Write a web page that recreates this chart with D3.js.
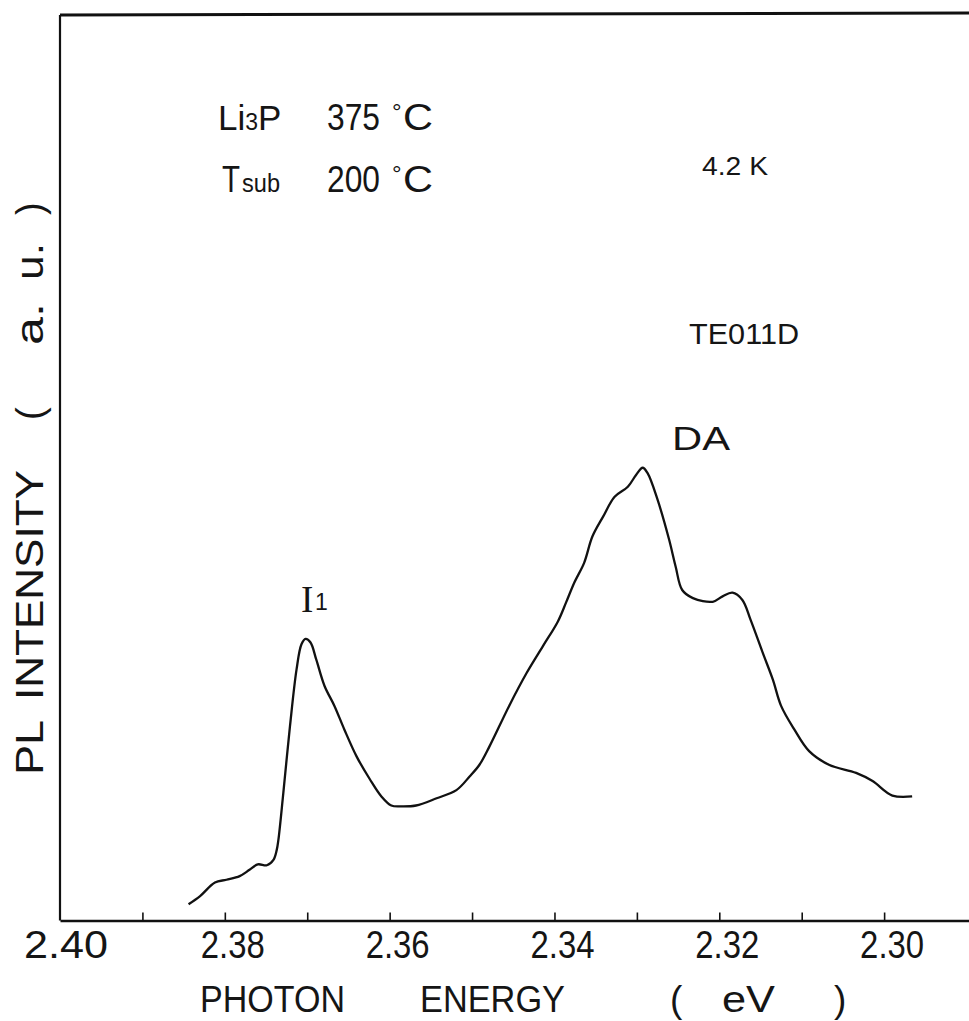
<!DOCTYPE html>
<html>
<head>
<meta charset="utf-8">
<script src="https://cdn.jsdelivr.net/npm/d3@7/dist/d3.min.js"></script>
<style>
  html, body { margin: 0; padding: 0; background: #fff; }
  svg { display: block; }
  text { font-family: 'Liberation Sans Narrow', 'Liberation Sans', 'DejaVu Sans', sans-serif; fill: #151515; }
</style>
</head>
<body>
<div id="chart"></div>
<script>
// photon energy (eV) left to right
const energy = [
  2.3844, 2.3830, 2.3812, 2.3798, 2.3782, 2.3770, 2.3760, 2.3749, 2.3741, 2.3737,
  2.3735, 2.3729, 2.3721, 2.3713, 2.3707, 2.3702, 2.3696, 2.3689, 2.3679, 2.3667,
  2.3655, 2.3640, 2.3624, 2.3610, 2.3598, 2.3586, 2.3568, 2.3543, 2.3519, 2.3503,
  2.3491, 2.3479, 2.3455, 2.3434, 2.3414, 2.3396, 2.3386, 2.3376, 2.3364, 2.3354,
  2.3341, 2.3327, 2.3311, 2.3301, 2.3293, 2.3287, 2.3275, 2.3261, 2.3253, 2.3245,
  2.3232, 2.3208, 2.3196, 2.3184, 2.3172, 2.3162, 2.3147, 2.3135, 2.3125, 2.3109,
  2.3091, 2.3067, 2.3034, 2.3014, 2.2990, 2.2966,
]
// PL intensity (a.u.)
const intensity = [
  0.18, 0.27, 0.42, 0.45, 0.49, 0.56, 0.62, 0.61, 0.67, 0.78,
  0.89, 1.41, 2.14, 2.77, 3.05, 3.11, 3.07, 2.88, 2.59, 2.37,
  2.11, 1.81, 1.56, 1.37, 1.27, 1.26, 1.27, 1.35, 1.44, 1.59,
  1.72, 1.92, 2.37, 2.73, 3.03, 3.30, 3.51, 3.73, 3.95, 4.24,
  4.46, 4.68, 4.79, 4.92, 5.00, 4.94, 4.65, 4.21, 3.91, 3.65,
  3.56, 3.52, 3.58, 3.62, 3.54, 3.32, 2.95, 2.66, 2.37, 2.11,
  1.87, 1.72, 1.63, 1.54, 1.38, 1.37,
]
// x axis ticks every 0.01 eV, labels every 0.02 eV
const tickValues = [2.39, 2.38, 2.37, 2.36, 2.35, 2.34, 2.33, 2.32, 2.31, 2.30]
const tickLabels = ['2.40', '2.38', '2.36', '2.34', '2.32', '2.30']

const width = 969
const height = 1021
const margin = { top: 15, right: 0, bottom: 100, left: 60 }

const svg = d3
  .select('#chart')
  .append('svg')
  .attr('width', width)
  .attr('height', height)

// energy runs right to left (high energy at the left)
const x = d3
  .scaleLinear()
  .domain([2.40, 2.2897])
  .range([margin.left, width - margin.right])

const y = d3
  .scaleLinear()
  .domain([0, 10])
  .range([height - margin.bottom - 0.5, margin.top])

const points = energy.map((e, i) => ({ e, v: intensity[i] }))

/** =========================
 * 外框 / 座標軸
 ========================= */
const frame = svg.append('g').attr('stroke', '#111').attr('fill', 'none')

frame
  .append('line')
  .attr('x1', x(2.40))
  .attr('x2', width)
  .attr('y1', y(10))
  .attr('y2', y(10) - 2)
  .attr('stroke-width', 3)

frame
  .append('line')
  .attr('x1', x(2.40))
  .attr('x2', x(2.40))
  .attr('y1', y(10))
  .attr('y2', y(0))
  .attr('stroke-width', 2.2)

const xAxis = svg
  .append('g')
  .attr('transform', `translate(0,${y(0)})`)
  .call(
    d3
      .axisBottom(x)
      .tickValues(tickValues)
      .tickSizeInner(-8)
      .tickSizeOuter(0)
      .tickFormat(''),
  )

xAxis.select('.domain').attr('stroke', '#111').attr('stroke-width', 2.4)
xAxis.selectAll('.tick line').attr('stroke', '#111').attr('stroke-width', 1.6)

// tick labels sit slightly right of their ticks, like the plotter output
svg
  .append('g')
  .selectAll('text')
  .data(tickLabels)
  .join('text')
  .attr('x', d => x(+d) + (d === '2.40' ? 6 : 8) - (d === '2.40' ? 42 : 32))
  .attr('y', y(0) + 37)
  .attr('textLength', d => (d === '2.40' ? 84 : 64))
  .attr('lengthAdjust', 'spacingAndGlyphs')
  .style('font-size', '38px')
  .text(d => d)

/** =========================
 * 光譜曲線
 ========================= */
const line = d3
  .line()
  .x(d => x(d.e))
  .y(d => y(d.v))
  .curve(d3.curveCatmullRom.alpha(0.5))

svg
  .append('path')
  .datum(points)
  .attr('d', line)
  .attr('fill', 'none')
  .attr('stroke', '#111')
  .attr('stroke-width', 2.3)
  .attr('stroke-linejoin', 'round')

/** =========================
 * 標籤
 ========================= */
const addText = (g, { tx, ty, str, size, len, family, spacing }) => {
  const t = g
    .append('text')
    .attr('x', tx)
    .attr('y', ty)
    .style('font-size', `${size}px`)
    .text(str)
  if (len) t.attr('textLength', len).attr('lengthAdjust', 'spacingAndGlyphs')
  if (family) t.style('font-family', family)
  if (spacing) t.style('letter-spacing', `${spacing}px`)
  return t
}

// 攝氏度符號：小圓圈在 C 的左上方
const addCelsius = (g, tx, ty) => {
  addText(g, { tx, ty: ty - 10, str: '°', size: 24 })
  addText(g, { tx: tx + 11, ty, str: 'C', size: 37, len: 30 })
}

const notes = svg.append('g')

// Li3P 375 °C
const li = addText(notes, { tx: 218, ty: 130, str: 'Li', size: 35 })
li.append('tspan').style('font-size', '23px').text('3')
li.append('tspan').style('font-size', '35px').text('P')
addText(notes, { tx: 327, ty: 130, str: '375', size: 36, len: 53 })
addCelsius(notes, 392, 130)

// Tsub 200 °C
addText(notes, { tx: 222, ty: 192, str: 'T', size: 36, len: 18 })
addText(notes, { tx: 242, ty: 192, str: 'sub', size: 26, len: 38 })
addText(notes, { tx: 327, ty: 192, str: '200', size: 36, len: 53 })
addCelsius(notes, 392, 192)

addText(notes, { tx: 702, ty: 175, str: '4.2 K', size: 25, len: 66 })
addText(notes, { tx: 689, ty: 344, str: 'TE011D', size: 29, len: 110 })
addText(notes, { tx: 672, ty: 450, str: 'DA', size: 34, len: 58 })

// I1 peak label
addText(notes, {
  tx: 301,
  ty: 612,
  str: 'I',
  size: 37,
  family: "'Liberation Serif', 'DejaVu Serif', serif",
})
addText(notes, { tx: 315, ty: 610, str: '1', size: 23 })

/** =========================
 * 軸標題
 ========================= */
const xTitle = svg.append('g')
addText(xTitle, { tx: 200, ty: 1012, str: 'PHOTON', size: 37, len: 145 })
addText(xTitle, { tx: 420, ty: 1012, str: 'ENERGY', size: 37, len: 145 })
addText(xTitle, { tx: 670, ty: 1012, str: '(', size: 37 })
addText(xTitle, { tx: 722, ty: 1012, str: 'eV', size: 37, len: 53 })
addText(xTitle, { tx: 834, ty: 1012, str: ')', size: 37 })

const yTitle = svg.append('g').attr('transform', 'translate(43,0) rotate(-90)')
addText(yTitle, { tx: -775, ty: 0, str: 'PL', size: 38, len: 55 })
addText(yTitle, { tx: -700, ty: 0, str: 'INTENSITY', size: 38, len: 230 })
addText(yTitle, { tx: -420, ty: 0, str: '(', size: 38 })
addText(yTitle, { tx: -345, ty: 0, str: 'a.', size: 38, len: 42 })
addText(yTitle, { tx: -280, ty: 0, str: 'u.', size: 38, len: 37 })
addText(yTitle, { tx: -215, ty: 0, str: ')', size: 38 })
</script>
</body>
</html>
